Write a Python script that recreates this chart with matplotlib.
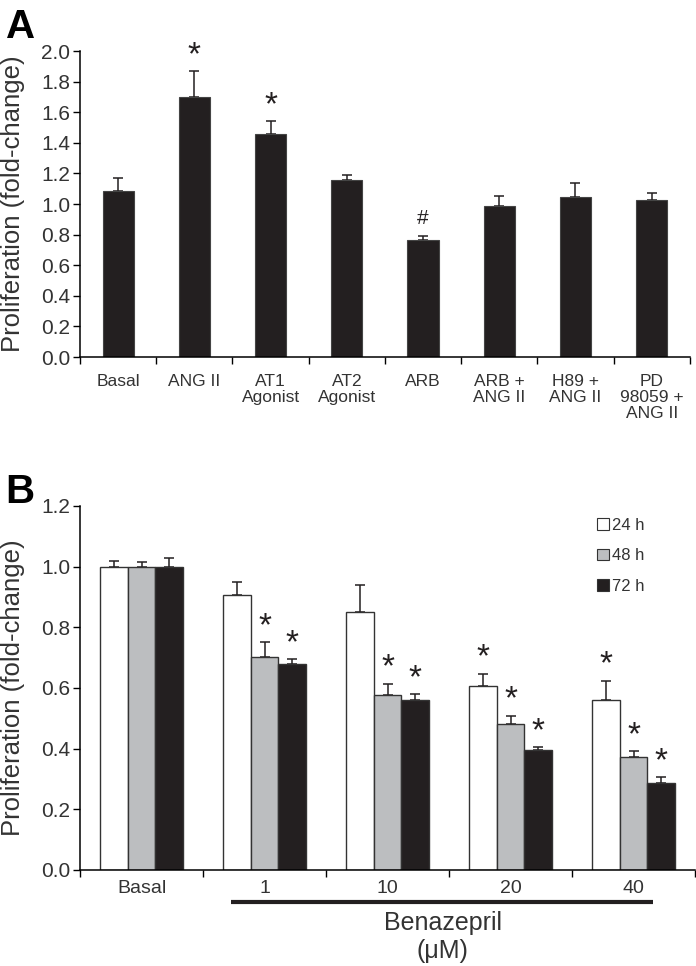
import numpy as np
import matplotlib
matplotlib.use("Agg")
import matplotlib.pyplot as plt
from matplotlib.patches import Patch

plt.rcParams["font.family"] = ["Liberation Sans", "DejaVu Sans"]

# panel A
cats_a = ["Basal", "ANG II", "AT1\nAgonist", "AT2\nAgonist", "ARB",
          "ARB +\nANG II", "H89 +\nANG II", "PD\n98059 +\nANG II"]
vals_a = [1.087, 1.70, 1.46, 1.155, 0.765, 0.99, 1.044, 1.026]
err_a = [0.083, 0.17, 0.08, 0.035, 0.025, 0.06, 0.096, 0.044]
mark_a = ["", "*", "*", "", "#", "", "", ""]

# panel B
groups_b = ["Basal", "1", "10", "20", "40"]
series_b = ["24 h", "48 h", "72 h"]
vals_b = {
    "24 h": [1.0, 0.906, 0.852, 0.607, 0.560],
    "48 h": [1.0, 0.702, 0.577, 0.481, 0.371],
    "72 h": [1.0, 0.679, 0.559, 0.394, 0.288],
}
err_b = {
    "24 h": [0.019, 0.044, 0.087, 0.040, 0.064],
    "48 h": [0.015, 0.048, 0.037, 0.028, 0.022],
    "72 h": [0.030, 0.015, 0.021, 0.010, 0.019],
}
mark_b = {
    "24 h": ["", "", "", "*", "*"],
    "48 h": ["", "*", "*", "*", "*"],
    "72 h": ["", "*", "*", "*", "*"],
}
colors_b = {"24 h": "white", "48 h": "#bcbec0", "72 h": "#231f20"}

dark = "#231f20"
txt = "#333333"
fig = plt.figure(figsize=(6.96, 9.66), dpi=100)

# ---- A ----
ax = fig.add_axes([0.115, 0.6304, 0.876, 0.3168])
x = np.arange(len(cats_a))
ax.bar(x, vals_a, width=0.41, color=dark, edgecolor="#444444", linewidth=0.8, zorder=2)
ax.errorbar(x, vals_a, yerr=[np.zeros(len(x)), err_a], fmt="none",
            ecolor=dark, elinewidth=1.1, capsize=3.5, capthick=1.1, zorder=1)
for xi, v, e, m in zip(x, vals_a, err_a, mark_a):
    if m:
        fs = 24 if m == "*" else 15
        dy = 0 if m == "*" else 6
        ax.annotate(m, (xi, v + e), xytext=(0, dy), textcoords="offset points",
                    ha="center", va="bottom", fontsize=fs, color=dark)
ax.set_xlim(-0.5, len(cats_a) - 0.5)
ax.set_ylim(0, 2.0)
ax.set_yticks(np.arange(0, 2.01, 0.2))
ax.set_yticklabels([f"{t:.1f}" for t in np.arange(0, 2.01, 0.2)])
ax.set_xticks(x)
ax.set_xticklabels(cats_a, fontsize=12.5, color=txt, linespacing=1.1)
ax.set_xticks(np.arange(-0.5, len(cats_a)), minor=True)
ax.tick_params(axis="x", which="major", length=0, pad=12)
ax.tick_params(axis="x", which="minor", length=5, width=1, direction="out")
ax.tick_params(axis="y", labelsize=15, length=5, width=1, labelcolor=txt, pad=2)
ax.set_ylabel("Proliferation (fold-change)", fontsize=18.5, color=txt)
ax.yaxis.set_label_coords(-0.09, 0.5)
for s in ["top", "right"]:
    ax.spines[s].set_visible(False)
for s in ["left", "bottom"]:
    ax.spines[s].set_linewidth(1.1)
fig.text(0.008, 0.992, "A", fontsize=29, fontweight="bold", va="top", ha="left")

# ---- B ----
bx = fig.add_axes([0.115, 0.0994, 0.8836, 0.3768])
g = np.arange(len(groups_b))
w = 0.225
for i, s in enumerate(series_b):
    xs = g + (i - 1) * w
    bx.bar(xs, vals_b[s], width=w, color=colors_b[s], edgecolor="#333333",
           linewidth=1.0, label=s, zorder=2)
    bx.errorbar(xs, vals_b[s], yerr=[np.zeros(len(g)), err_b[s]], fmt="none",
                ecolor=dark, elinewidth=1.1, capsize=3.5, capthick=1.1, zorder=1)
    for xi, v, e, m in zip(xs, vals_b[s], err_b[s], mark_b[s]):
        if m:
            bx.annotate(m, (xi, v + e), xytext=(0, 0), textcoords="offset points",
                        ha="center", va="bottom", fontsize=24, color=dark)
bx.set_xlim(-0.5, len(groups_b) - 0.5)
bx.set_ylim(0, 1.2)
bx.set_yticks(np.arange(0, 1.21, 0.2))
bx.set_yticklabels([f"{t:.1f}" for t in np.arange(0, 1.21, 0.2)])
bx.set_xticks(g)
bx.set_xticklabels(groups_b, fontsize=14, color=txt)
bx.set_xticks(np.arange(-0.5, len(groups_b)), minor=True)
bx.tick_params(axis="x", which="major", length=0, pad=7)
bx.tick_params(axis="x", which="minor", length=5, width=1, direction="out")
bx.tick_params(axis="y", labelsize=15, length=5, width=1, labelcolor=txt, pad=2)
bx.set_ylabel("Proliferation (fold-change)", fontsize=18.5, color=txt)
bx.yaxis.set_label_coords(-0.089, 0.5)
for s in ["top", "right"]:
    bx.spines[s].set_visible(False)
for s in ["left", "bottom"]:
    bx.spines[s].set_linewidth(1.1)

handles = [Patch(facecolor=colors_b[s], edgecolor="#333333", linewidth=0.8) for s in series_b]
bx.legend(handles, series_b, loc="upper left", bbox_to_anchor=(0.827, 0.99),
          frameon=False, fontsize=12, handlelength=0.7, handleheight=0.7,
          handletextpad=0.2, labelspacing=0.92, borderpad=0, labelcolor=txt)

trans = bx.get_xaxis_transform()
bx.plot([0.73, 4.16], [-0.088, -0.088], transform=trans, color=dark, lw=3,
        clip_on=False, solid_capstyle="butt")
bx.text(2.45, -0.113, "Benazepril", transform=trans, ha="center", va="top",
        fontsize=18, color=txt)
bx.text(2.45, -0.19, "(\u03bcM)", transform=trans, ha="center", va="top",
        fontsize=18, color=txt)
fig.text(0.008, 0.51, "B", fontsize=29, fontweight="bold", va="top", ha="left")

fig.savefig("out.png", dpi=100)
